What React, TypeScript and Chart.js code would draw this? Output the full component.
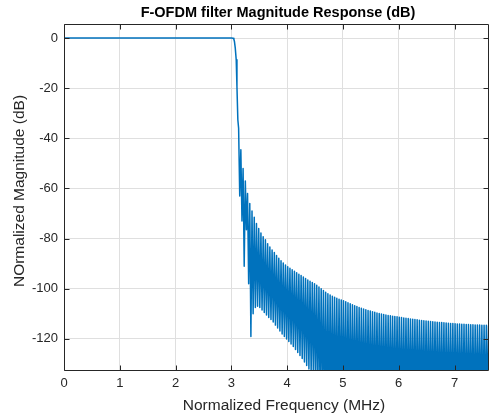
import { useEffect, useRef } from "react";
import { Chart, registerables } from "chart.js";

Chart.register(...registerables);

// ---- Data ----
// Passband and transition band of the F-OFDM filter
const passFreq = [0, 1, 2, 3.0, 3.03, 3.045, 3.056, 3.07, 3.087, 3.1, 3.116];
const passDb = [0, 0, 0, 0, -0.1, -0.5, -1.5, -4, -8.7, -19.3, -32.6];

// Stopband side-lobes: alternating lobe peak / null
const lobeFreq = [
  3.13, 3.15, 3.17, 3.19, 3.21, 3.23, 3.25, 3.27, 3.29, 3.31,
  3.33, 3.35, 3.37, 3.39, 3.41, 3.43, 3.45, 3.47, 3.49, 3.51,
  3.53, 3.55, 3.57, 3.59, 3.61, 3.63, 3.65, 3.67, 3.69, 3.71,
  3.73, 3.75, 3.77, 3.79, 3.81, 3.83, 3.85, 3.87, 3.89, 3.91,
  3.93, 3.95, 3.97, 3.99, 4.01, 4.03, 4.05, 4.07, 4.09, 4.11,
  4.13, 4.15, 4.17, 4.19, 4.21, 4.23, 4.25, 4.27, 4.29, 4.31,
  4.33, 4.35, 4.37, 4.39, 4.41, 4.43, 4.45, 4.47, 4.49, 4.51,
  4.53, 4.55, 4.57, 4.59, 4.61, 4.63, 4.65, 4.67, 4.69, 4.71,
  4.73, 4.75, 4.77, 4.79, 4.81, 4.83, 4.85, 4.87, 4.89, 4.91,
  4.93, 4.95, 4.97, 4.99, 5.01, 5.03, 5.05, 5.07, 5.09, 5.11,
  5.13, 5.15, 5.17, 5.19, 5.21, 5.23, 5.25, 5.27, 5.29, 5.31,
  5.33, 5.35, 5.37, 5.39, 5.41, 5.43, 5.45, 5.47, 5.49, 5.51,
  5.53, 5.55, 5.57, 5.59, 5.61, 5.63, 5.65, 5.67, 5.69, 5.71,
  5.73, 5.75, 5.77, 5.79, 5.81, 5.83, 5.85, 5.87, 5.89, 5.91,
  5.93, 5.95, 5.97, 5.99, 6.01, 6.03, 6.05, 6.07, 6.09, 6.11,
  6.13, 6.15, 6.17, 6.19, 6.21, 6.23, 6.25, 6.27, 6.29, 6.31,
  6.33, 6.35, 6.37, 6.39, 6.41, 6.43, 6.45, 6.47, 6.49, 6.51,
  6.53, 6.55, 6.57, 6.59, 6.61, 6.63, 6.65, 6.67, 6.69, 6.71,
  6.73, 6.75, 6.77, 6.79, 6.81, 6.83, 6.85, 6.87, 6.89, 6.91,
  6.93, 6.95, 6.97, 6.99, 7.01, 7.03, 7.05, 7.07, 7.09, 7.11,
  7.13, 7.15, 7.17, 7.19, 7.21, 7.23, 7.25, 7.27, 7.29, 7.31,
  7.33, 7.35, 7.37, 7.39, 7.41, 7.43, 7.45, 7.47, 7.49, 7.51,
  7.53, 7.55, 7.57, 7.59, 7.61,
];
const lobeDb = [
  -36, -63, -44.6, -73, -52, -91, -57, -76.5, -62, -98,
  -66, -119, -69, -110, -71.5, -107.5, -74, -107, -76, -107.5,
  -77.8, -108.5, -79.3, -109.5, -80.5, -110.5, -82, -111.5, -83.3, -112.3,
  -84.5, -113.3, -85.5, -114.5, -86.7, -115.6, -87.8, -116.8, -88.8, -118,
  -89.7, -119, -90.5, -120, -91.2, -121, -91.8, -122, -92.4, -123,
  -93, -124.2, -93.6, -125.4, -94.2, -126.6, -94.7, -127.8, -95.3, -129.2,
  -95.9, -130.6, -96.5, -132, -97, -133.5, -97.5, -135, -98, -137,
  -98.6, -140, -99.3, -142, -100, -145, -100.7, -148, -101.4, -150,
  -102, -150, -102.5, -150, -103, -150, -103.4, -150, -103.8, -150,
  -104.2, -150, -104.5, -150, -104.8, -150, -105.2, -150, -105.6, -150,
  -106, -150, -106.4, -150, -106.8, -150, -107.1, -150, -107.5, -150,
  -107.8, -150, -108.1, -150, -108.4, -150, -108.7, -150, -108.9, -150,
  -109.2, -150, -109.4, -150, -109.7, -150, -109.9, -150, -110.1, -150,
  -110.3, -150, -110.5, -150, -110.7, -150, -110.8, -150, -111, -150,
  -111.1, -150, -111.2, -150, -111.4, -150, -111.5, -150, -111.7, -150,
  -111.8, -150, -111.9, -150, -112.1, -150, -112.2, -150, -112.3, -150,
  -112.4, -150, -112.6, -150, -112.7, -150, -112.8, -150, -112.9, -150,
  -113, -150, -113.1, -150, -113.2, -150, -113.3, -150, -113.4, -150,
  -113.5, -150, -113.5, -150, -113.6, -150, -113.7, -150, -113.8, -150,
  -113.9, -150, -113.9, -150, -114, -150, -114.1, -150, -114.1, -150,
  -114.2, -150, -114.2, -150, -114.3, -150, -114.3, -150, -114.4, -150,
  -114.4, -150, -114.5, -150, -114.5, -150, -114.5, -150, -114.6, -150,
  -114.6, -150, -114.6, -150, -114.7,
];

const xLimits = [0, 7.6];
const yLimits = [-132.4, 5.6];
const xTickStep = 1;
const yTickStep = 20;

const titleText = "F-OFDM filter Magnitude Response (dB)";
const xLabelText = "Normalized Frequency (MHz)";
const yLabelText = "NOrmalized Magnitude (dB)";

const FONT = '"Liberation Sans", Arial, Helvetica, sans-serif';
const axisColor = "#262626";
const gridColor = "#dfdfdf";
const lineColor = "#0072BD";

const matlabFrame = {
  id: "matlabFrame",
  afterDatasetsDraw(chart: any) {
    const { ctx, chartArea: a, scales } = chart;
    const L = a.left + 0.5;
    const R = a.right + 0.5;
    const T = a.top + 0.5;
    const B = a.bottom + 0.5;
    const tl = 5;
    ctx.save();
    ctx.strokeStyle = axisColor;
    ctx.lineWidth = 1;
    ctx.beginPath();
    ctx.rect(L, T, R - L, B - T);
    for (const t of scales.x.ticks) {
      const px = Math.round(scales.x.getPixelForValue(t.value)) + 0.5;
      ctx.moveTo(px, B);
      ctx.lineTo(px, B - tl);
      ctx.moveTo(px, T);
      ctx.lineTo(px, T + tl);
    }
    for (const t of scales.y.ticks) {
      const py = Math.round(scales.y.getPixelForValue(t.value)) + 0.5;
      ctx.moveTo(L, py);
      ctx.lineTo(L + tl, py);
      ctx.moveTo(R, py);
      ctx.lineTo(R - tl, py);
    }
    ctx.stroke();
    ctx.restore();
  },
  afterDraw(chart: any) {
    const { ctx, chartArea: a } = chart;
    ctx.save();
    ctx.textBaseline = "middle";
    ctx.textAlign = "center";
    ctx.fillStyle = "#000000";
    ctx.font = `bold 14.5px ${FONT}`;
    ctx.fillText(titleText, (a.left + a.right) / 2 + 2, 12.5);
    ctx.fillStyle = axisColor;
    ctx.font = `15.5px ${FONT}`;
    ctx.fillText(xLabelText, (a.left + a.right) / 2 + 8, 406);
    ctx.translate(20, (a.top + a.bottom) / 2 - 6);
    ctx.rotate(-Math.PI / 2);
    ctx.fillText(yLabelText, 0, 0);
    ctx.restore();
  },
};

export default function App() {
  const ref = useRef<HTMLCanvasElement>(null);

  useEffect(() => {
    document.body.style.margin = "0";
    if (!ref.current) return;
    const points = [
      ...passFreq.map((x, i) => ({ x, y: passDb[i] })),
      ...lobeFreq.map((x, i) => ({ x, y: lobeDb[i] })),
    ];
    const tickFont = { family: FONT, size: 13 };
    const chart = new Chart(ref.current, {
      type: "line",
      data: {
        datasets: [
          {
            data: points,
            borderColor: lineColor,
            borderWidth: 1.5,
            borderJoinStyle: "round",
            pointRadius: 0,
            tension: 0,
            fill: false,
            clip: 0,
          } as any,
        ],
      },
      options: {
        animation: false,
        responsive: false,
        maintainAspectRatio: false,
        events: [],
        layout: { padding: { top: 24, right: 1, left: 0, bottom: 0 } },
        plugins: {
          legend: { display: false },
          tooltip: { enabled: false },
          title: { display: false },
        },
        scales: {
          x: {
            type: "linear",
            min: xLimits[0],
            max: xLimits[1],
            afterFit: (s: any) => {
              s.height = 45;
            },
            ticks: {
              stepSize: xTickStep,
              includeBounds: false,
              autoSkip: false,
              maxRotation: 0,
              padding: 6,
              color: axisColor,
              font: tickFont,
            },
            grid: { color: gridColor, lineWidth: 1, drawTicks: false },
            border: { display: false },
          },
          y: {
            type: "linear",
            min: yLimits[0],
            max: yLimits[1],
            afterFit: (s: any) => {
              s.width = 64;
            },
            ticks: {
              stepSize: yTickStep,
              includeBounds: false,
              autoSkip: false,
              padding: 6,
              color: axisColor,
              font: tickFont,
            },
            grid: { color: gridColor, lineWidth: 1, drawTicks: false },
            border: { display: false },
          },
        },
      } as any,
      plugins: [matlabFrame],
    });
    return () => chart.destroy();
  }, []);

  return (
    <canvas
      ref={ref}
      width={489}
      height={415}
      style={{ display: "block", width: 489, height: 415 }}
    />
  );
}
